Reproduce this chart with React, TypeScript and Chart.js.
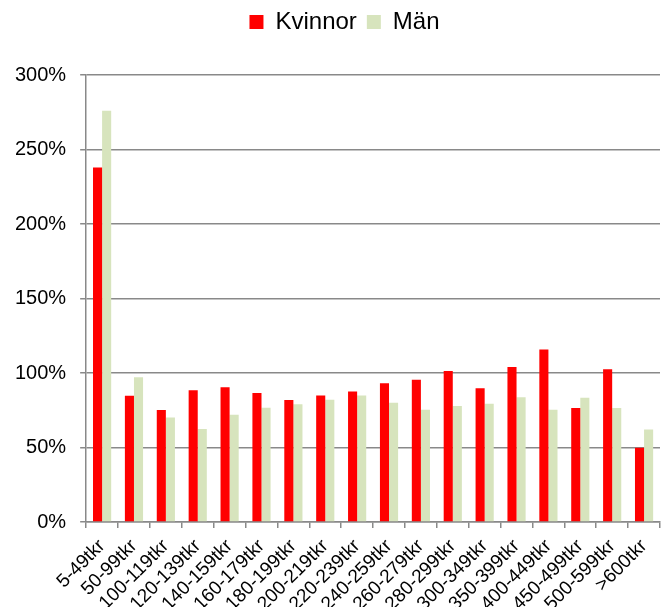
import React, { useEffect, useRef } from "react";
import { Chart, registerables } from "chart.js";

Chart.register(...registerables);

const categories = [
  "5-49tkr", "50-99tkr", "100-119tkr", "120-139tkr", "140-159tkr", "160-179tkr",
  "180-199tkr", "200-219tkr", "220-239tkr", "240-259tkr", "260-279tkr", "280-299tkr",
  "300-349tkr", "350-399tkr", "400-449tkr", "450-499tkr", "500-599tkr", ">600tkr",
];
const kvinnor = [238, 84.7, 75.1, 88.5, 90.5, 86.5, 81.8, 84.9, 87.6, 93.2, 95.4, 101.4, 89.8, 104.1, 115.7, 76.5, 102.5, 49.9];
const man = [276, 97.2, 70.2, 62.4, 72.0, 76.7, 79.1, 82.0, 84.9, 80.0, 75.3, 77.8, 79.3, 83.8, 75.3, 83.4, 76.5, 62.0];
const yTicks = [0, 50, 100, 150, 200, 250, 300];

const FONT = "'Liberation Sans', Arial, sans-serif";
const GRID = "#898989";

const legendSpacer = {
  id: "legendSpacer",
  beforeInit(chart: any) {
    const origFit = chart.legend.fit;
    chart.legend.fit = function () {
      origFit.bind(this)();
      this.height += 31;
    };
  },
  afterLayout(chart: any) {
    chart.legend.left += 14;
    chart.legend.right += 14;
  },
};

export default function App() {
  const ref = useRef<HTMLCanvasElement | null>(null);
  useEffect(() => {
    document.body.style.margin = "0";
    const chart = new Chart(ref.current as HTMLCanvasElement, {
      type: "bar",
      data: {
        labels: categories,
        datasets: [
          { label: "Kvinnor", data: kvinnor, backgroundColor: "#FF0000", categoryPercentage: 0.57, barPercentage: 1 },
          { label: "Män", data: man, backgroundColor: "#D7E4BD", categoryPercentage: 0.57, barPercentage: 1 },
        ],
      },
      plugins: [legendSpacer],
      options: {
        responsive: false,
        animation: false,
        devicePixelRatio: 1,
        layout: { padding: { top: 0, right: 4, left: 1, bottom: 0 } },
        plugins: {
          tooltip: { enabled: false },
          legend: {
            position: "top",
            labels: {
              font: { family: FONT, size: 24 },
              color: "#000",
              boxWidth: 14,
              boxHeight: 14,
              padding: 10,
            },
          },
        },
        scales: {
          x: {
            grid: { display: true, drawOnChartArea: false, color: GRID, tickLength: 6, lineWidth: 1.5, offset: true },
            border: { color: GRID, width: 1.5 },
            afterFit: (axis: any) => {
              axis.paddingLeft = 0;
              axis.paddingRight = 0;
              axis.height = 85;
            },
            ticks: {
              font: { family: FONT, size: 19 },
              color: "#000",
              maxRotation: 45,
              minRotation: 45,
              autoSkip: false,
              padding: 7,
            },
          },
          y: {
            min: 0,
            max: 300,
            afterBuildTicks: (axis: any) => {
              axis.ticks = yTicks.map((v) => ({ value: v }));
            },
            grid: { color: GRID, tickLength: 6, lineWidth: 1.5 },
            border: { color: GRID, width: 1.5 },
            ticks: {
              font: { family: FONT, size: 20 },
              color: "#000",
              padding: 14,
              callback: (v: any) => `${v}%`,
            },
          },
        },
      },
    });
    return () => chart.destroy();
  }, []);
  return (
    <div style={{ position: "fixed", left: 0, top: 0, width: 664, height: 607 }}>
      <canvas ref={ref} width={664} height={607} />
    </div>
  );
}
